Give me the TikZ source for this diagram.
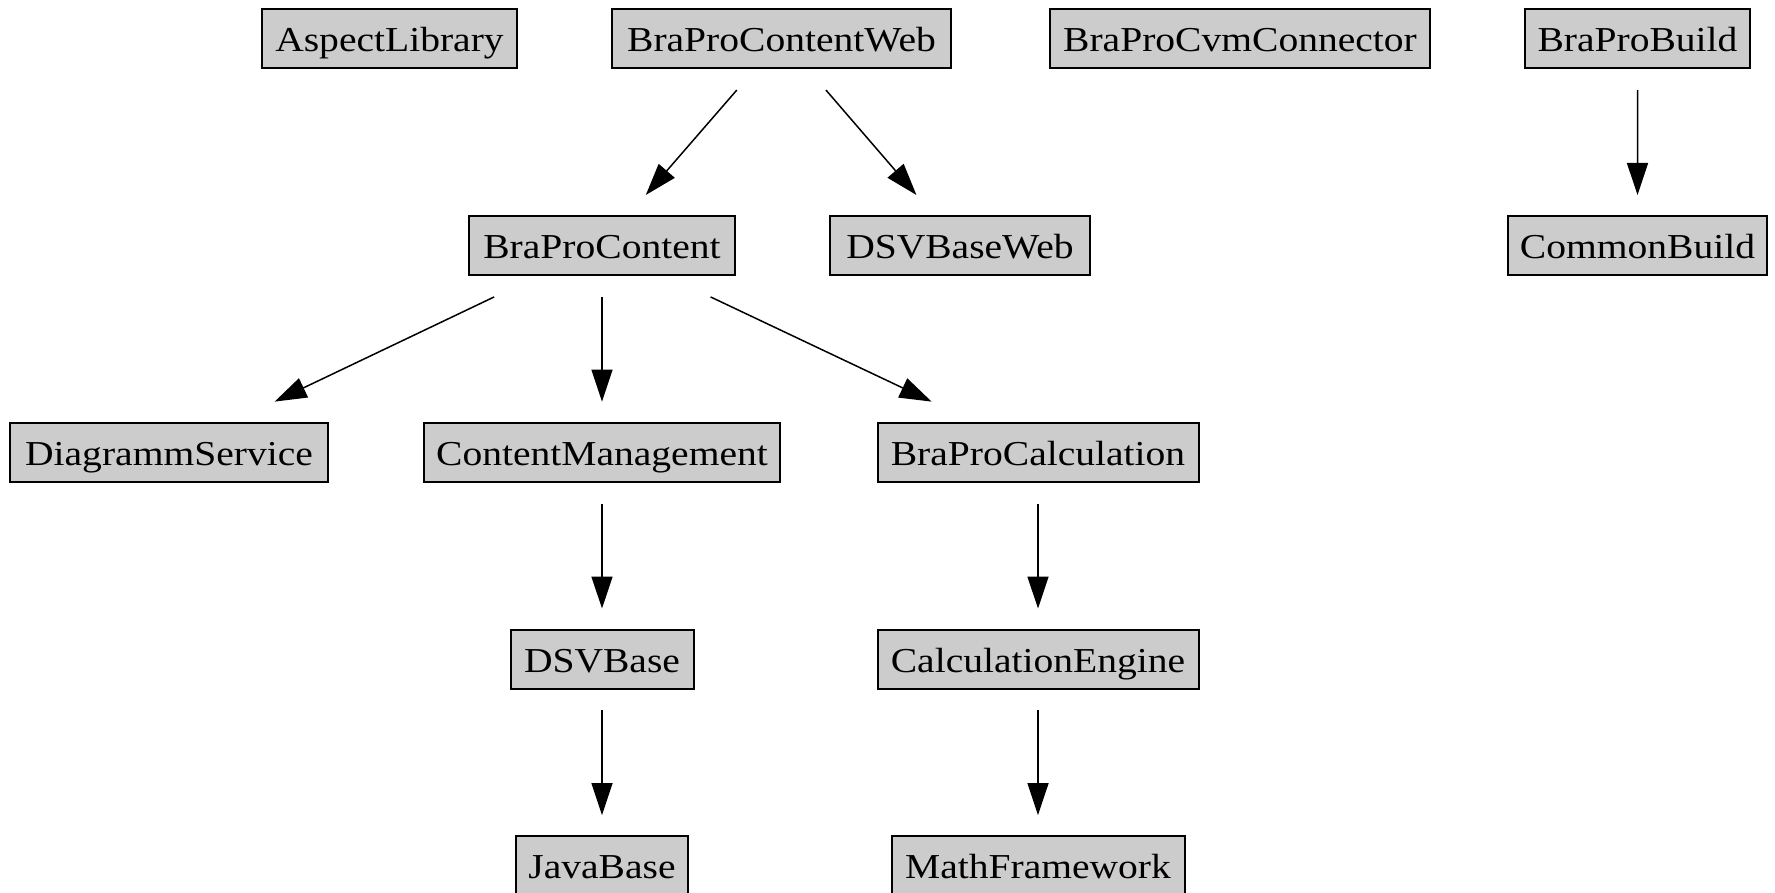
\documentclass[tikz,border=0pt]{standalone}
\usepackage{fontspec}
\setmainfont{Liberation Serif}[FakeStretch=1.13]
\usetikzlibrary{calc,arrows.meta}
\definecolor{boxgray}{RGB}{204,204,204}
\begin{document}
\begin{tikzpicture}[x=1pt,y=-1pt,
  pkg/.style={draw=black,fill=boxgray,line width=2pt,minimum height=59pt,
    inner xsep=0pt,inner ysep=0pt,text height=30pt,text depth=4pt,
    font=\fontsize{35pt}{40pt}\selectfont},
  dep/.style={line width=1.5pt,-{Triangle[length=32pt,width=21pt]}}]
\useasboundingbox (0,0) rectangle (1775,892);
\clip (0,0) rectangle (1775,892);
\fill[white] (0,0) rectangle (1775,892);
% row 1
\node[pkg,minimum width=255pt] (aspect) at (389.5,38.5) {AspectLibrary};
\node[pkg,minimum width=339pt] (cweb) at (781.5,38.5) {BraProContentWeb};
\node[pkg,minimum width=380pt] (cvm) at (1240,38.5) {BraProCvmConnector};
\node[pkg,minimum width=225pt] (build) at (1637.5,38.5) {BraProBuild};
% row 2
\node[pkg,minimum width=266pt] (content) at (602,245.5) {BraProContent};
\node[pkg,minimum width=260pt] (dsvweb) at (960,245.5) {DSVBaseWeb};
\node[pkg,minimum width=259pt] (common) at (1637.5,245.5) {CommonBuild};
% row 3
\node[pkg,minimum width=318pt] (diag) at (169,452) {DiagrammService};
\node[pkg,minimum width=356pt] (cm) at (602,452) {ContentManagement};
\node[pkg,minimum width=321pt] (calc) at (1038,452) {BraProCalculation};
% row 4
\node[pkg,minimum width=183pt] (dsv) at (602,659) {DSVBase};
\node[pkg,minimum width=321pt] (engine) at (1038,659) {CalculationEngine};
% row 5
\node[pkg,minimum width=172pt] (java) at (602,865.5) {JavaBase};
\node[pkg,minimum width=293pt] (math) at (1038,865.5) {MathFramework};
% edges
\foreach \a/\b in {cweb/content,cweb/dsvweb,build/common,content/diag,content/cm,content/calc,cm/dsv,calc/engine,dsv/java,engine/math}
  \draw[dep] ($(\a)!0.249!(\b)$) -- ($(\a)!0.756!(\b)$);
\end{tikzpicture}
\end{document}
